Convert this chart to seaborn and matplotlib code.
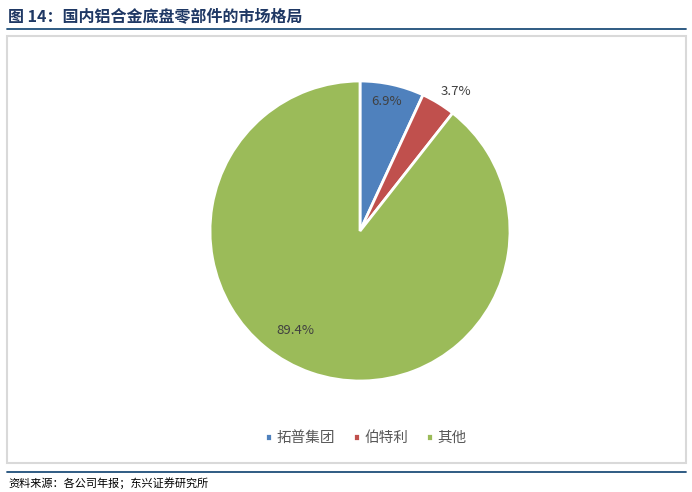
import numpy as np
import matplotlib
matplotlib.use("Agg")
import matplotlib.pyplot as plt
from matplotlib.patches import Rectangle
from matplotlib.lines import Line2D
import seaborn as sns

categories = ["拓普集团", "伯特利", "其他"]
shares = [6.9, 3.7, 89.4]
pct_labels = ["6.9%", "3.7%", "89.4%"]
title_text = "图 14：国内铝合金底盘零部件的市场格局"
source_text = "资料来源：各公司年报；东兴证券研究所"

sns.set_theme(style="white")
plt.rcParams['font.family'] = ['Noto Sans CJK SC', 'DejaVu Sans']

colors = ["#4F81BD", "#C0504D", "#9BBB59"]
W, H = 692, 492
fig = plt.figure(figsize=(W / 100, H / 100), dpi=100)

def fx(px):
    return px / W

def fy(py):
    return 1 - py / H

# Title
fig.text(fx(8), fy(16), title_text, fontsize=11.5, fontweight="bold",
         color="#1F3864", va="center", ha="left")
fig.add_artist(Line2D([fx(7), fx(686)], [fy(29), fy(29)], color="#1F4E79", lw=1.3))

# Chart frame
fig.add_artist(Rectangle((fx(7), fy(463)), fx(686) - fx(7), fy(36) - fy(463),
                         fill=False, edgecolor="#D9D9D9", lw=1.5))

# Footer
fig.add_artist(Line2D([fx(7), fx(686)], [fy(472), fy(472)], color="#1F4E79", lw=1.3))
fig.text(fx(8), fy(483), source_text, fontsize=8, style="italic",
         color="#000000", va="center", ha="left")

# Pie
cx, cy, r = 360, 231, 150
ax = fig.add_axes([fx(cx - r), fy(cy + r), (2 * r) / W, (2 * r) / H])
wedges, _ = ax.pie(shares, colors=colors, startangle=90, counterclock=False,
                   wedgeprops=dict(edgecolor="white", linewidth=2))
ax.set_aspect("equal")
ax.set_xlim(-1, 1)
ax.set_ylim(-1, 1)
ax.axis("off")

# label placement: (radial factor, angle offset in degrees)
placements = [(0.88, 1.0), (1.13, -3.0), (0.79, -14.0)]
for w, lab, (rf, off) in zip(wedges, pct_labels, placements):
    ang = np.deg2rad((w.theta1 + w.theta2) / 2 + off)
    ax.text(rf * np.cos(ang), rf * np.sin(ang), lab, ha="center", va="center",
            fontsize=9.5, color="#404040")

# Legend
leg = fig.legend(wedges, categories, loc="center", bbox_to_anchor=(fx(366), fy(438)),
                 ncol=3, frameon=False, fontsize=10.5, handlelength=0.5, handleheight=0.5,
                 handletextpad=0.3, columnspacing=1.2)
for t in leg.get_texts():
    t.set_color("#595959")

fig.savefig("out.png", dpi=100)
